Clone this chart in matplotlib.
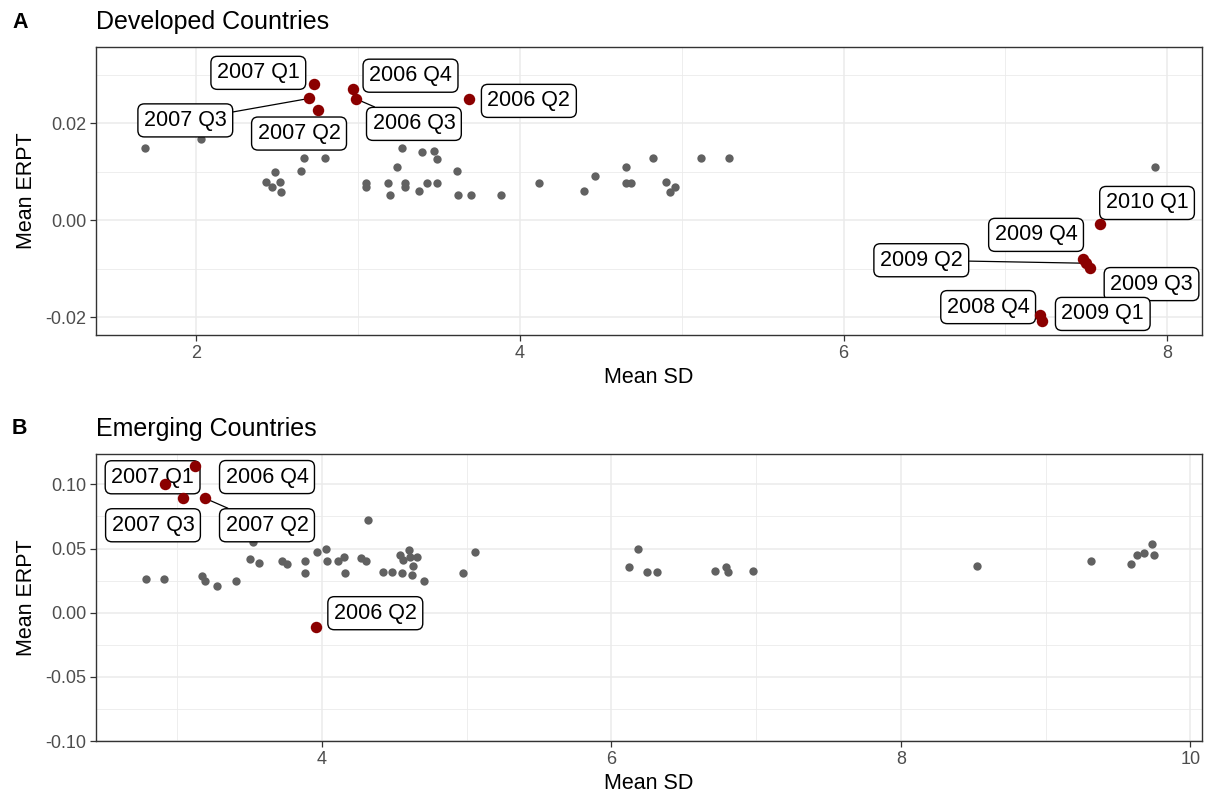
import matplotlib
matplotlib.use("Agg")
import matplotlib.pyplot as plt
from matplotlib.ticker import MultipleLocator

plt.rcParams["font.family"] = ["Liberation Sans", "DejaVu Sans"]

# ---- data: developed countries (panel A) ----
dev_sd = [1.683, 2.032, 2.669, 2.798, 2.490, 2.648, 2.433, 2.470, 2.521, 2.525,
          3.270, 3.394, 3.470, 3.490, 3.243, 3.613, 3.052, 3.052, 3.188, 3.198,
          3.291, 3.291, 3.377, 3.425, 3.490, 3.619, 3.696, 3.882, 4.116, 4.398,
          4.465, 4.653, 4.653, 4.686, 4.824, 4.905, 4.925, 4.961, 5.121, 5.290,
          7.927]
dev_erpt = [0.0149, 0.0168, 0.0128, 0.0128, 0.0099, 0.0101, 0.0079, 0.0068, 0.0079, 0.0058,
            0.0149, 0.0140, 0.0142, 0.0127, 0.0109, 0.0101, 0.0077, 0.0068, 0.0077, 0.0051,
            0.0077, 0.0068, 0.0060, 0.0077, 0.0077, 0.0051, 0.0051, 0.0051, 0.0077, 0.0060,
            0.0090, 0.0110, 0.0077, 0.0077, 0.0128, 0.0079, 0.0058, 0.0068, 0.0128, 0.0128,
            0.0110]
dev_hl_labels = ["2007 Q1", "2007 Q3", "2007 Q2", "2006 Q4", "2006 Q3", "2006 Q2",
                 "2010 Q1", "2009 Q4", "2009 Q2", "2009 Q3", "2008 Q4", "2009 Q1"]
dev_hl_sd = [2.730, 2.699, 2.753, 2.966, 2.987, 3.685,
             7.585, 7.480, 7.500, 7.520, 7.215, 7.225]
dev_hl_erpt = [0.0281, 0.0251, 0.0228, 0.0271, 0.0250, 0.0250,
               -0.0008, -0.0080, -0.0089, -0.0099, -0.0196, -0.0208]

# ---- data: emerging countries (panel B) ----
emg_sd = [2.782, 2.908, 3.169, 3.192, 3.273, 3.406, 3.521, 3.503, 3.567, 3.722,
          3.756, 3.883, 3.883, 3.963, 4.028, 4.037, 4.113, 4.152, 4.159, 4.267,
          4.304, 4.320, 4.423, 4.482, 4.539, 4.562, 4.603, 4.608, 4.658, 4.551,
          4.631, 4.622, 4.707, 4.972, 5.057, 6.121, 6.185, 6.247, 6.312, 6.715,
          6.791, 6.803, 6.975, 8.528, 9.313, 9.587, 9.628, 9.681, 9.736, 9.746]
emg_erpt = [0.0261, 0.0261, 0.0287, 0.0248, 0.0211, 0.0248, 0.0554, 0.0417, 0.0390, 0.0406,
            0.0378, 0.0406, 0.0308, 0.0471, 0.0497, 0.0403, 0.0403, 0.0437, 0.0308, 0.0429,
            0.0406, 0.0723, 0.0320, 0.0320, 0.0450, 0.0411, 0.0489, 0.0432, 0.0437, 0.0308,
            0.0364, 0.0294, 0.0248, 0.0308, 0.0476, 0.0354, 0.0494, 0.0320, 0.0320, 0.0328,
            0.0359, 0.0320, 0.0328, 0.0367, 0.0403, 0.0377, 0.0450, 0.0463, 0.0533, 0.0450]
emg_hl_labels = ["2006 Q4", "2007 Q1", "2007 Q3", "2007 Q2", "2006 Q2"]
emg_hl_sd = [3.123, 2.913, 3.040, 3.192, 3.961]
emg_hl_erpt = [0.1143, 0.1001, 0.0892, 0.0892, -0.0113]

# label placement (offset in pixels from the point) and whether a segment is drawn
dev_offsets = [(-56, 11), (-124, -22), (-19, -24), (58, 13), (58, -25), (60, -2),
               (47, 21), (-47, 24), (-165, 3), (62, -16), (-52, 8), (61, 7)]
dev_segs = [False, True, False, False, True, False,
            False, False, True, False, False, False]
emg_offsets = [(72, -11), (-12, 7), (-30, -27), (62, -27), (59, 14)]
emg_segs = [False, False, False, True, False]

W, H = 1211, 800
fig = plt.figure(figsize=(W / 100, H / 100), dpi=100)
fig.patch.set_facecolor("white")

GRAY_PT = "#616161"
RED_PT = "#8B0000"


def panel(rect, sd, erpt, hl_sd, hl_erpt, hl_labels, offsets, segs,
          xlim, ylim, xmaj, ymaj, letter, title):
    l, b, r, t = rect
    ax = fig.add_axes([l / W, 1 - b / H, (r - l) / W, (b - t) / H])
    ax.set_xlim(*xlim)
    ax.set_ylim(*ylim)
    ax.xaxis.set_major_locator(MultipleLocator(xmaj))
    ax.xaxis.set_minor_locator(MultipleLocator(xmaj / 2))
    ax.yaxis.set_major_locator(MultipleLocator(ymaj))
    ax.yaxis.set_minor_locator(MultipleLocator(ymaj / 2))
    ax.yaxis.set_major_formatter(lambda v, p: f"{v:.2f}")
    ax.grid(which="major", color="#EBEBEB", lw=1.1, zorder=0)
    ax.grid(which="minor", color="#EBEBEB", lw=0.6, zorder=0)
    ax.set_axisbelow(True)
    for s in ax.spines.values():
        s.set_color("#333333")
        s.set_linewidth(1.0)
    ax.tick_params(which="major", length=4, width=0.9, color="#333333",
                   labelsize=13, labelcolor="#4D4D4D", pad=3)
    ax.tick_params(which="minor", length=0)

    ax.scatter(sd, erpt, s=36, color=GRAY_PT, linewidths=0, zorder=2)

    for x, y, lab, off, seg in zip(hl_sd, hl_erpt, hl_labels, offsets, segs):
        ap = None
        if seg:
            ap = dict(arrowstyle="-", color="black", lw=0.9,
                      shrinkA=0, shrinkB=4)
        ax.annotate(lab, xy=(x, y), xytext=off, textcoords="offset pixels",
                    ha="center", va="center", fontsize=15.5, color="black",
                    bbox=dict(boxstyle="round,pad=0.28,rounding_size=0.3",
                              fc="white", ec="black", lw=1.0),
                    arrowprops=ap, zorder=3, annotation_clip=False)
    ax.scatter(hl_sd, hl_erpt, s=68, color=RED_PT, linewidths=0, zorder=4)

    ax.set_xlabel("Mean SD", fontsize=15.5, color="black", labelpad=4)
    ax.set_ylabel("Mean ERPT", fontsize=15.5, color="black", labelpad=6)
    fig.text(12 / W, 1 - (t - 25) / H, letter, fontsize=15.5, fontweight="bold",
             ha="left", va="center")
    fig.text(l / W, 1 - (t - 25) / H, title, fontsize=18,
             ha="left", va="center")
    return ax


panel((96, 335, 1202, 47), dev_sd, dev_erpt, dev_hl_sd, dev_hl_erpt,
      dev_hl_labels, dev_offsets, dev_segs,
      (1.381, 8.215), (-0.0237, 0.0357), 2, 0.02, "A", "Developed Countries")

panel((96, 741, 1202, 454), emg_sd, emg_erpt, emg_hl_sd, emg_hl_erpt,
      emg_hl_labels, emg_offsets, emg_segs,
      (2.439, 10.08), (-0.1, 0.1237), 2, 0.05, "B", "Emerging Countries")

fig.savefig("out.png", dpi=100)
